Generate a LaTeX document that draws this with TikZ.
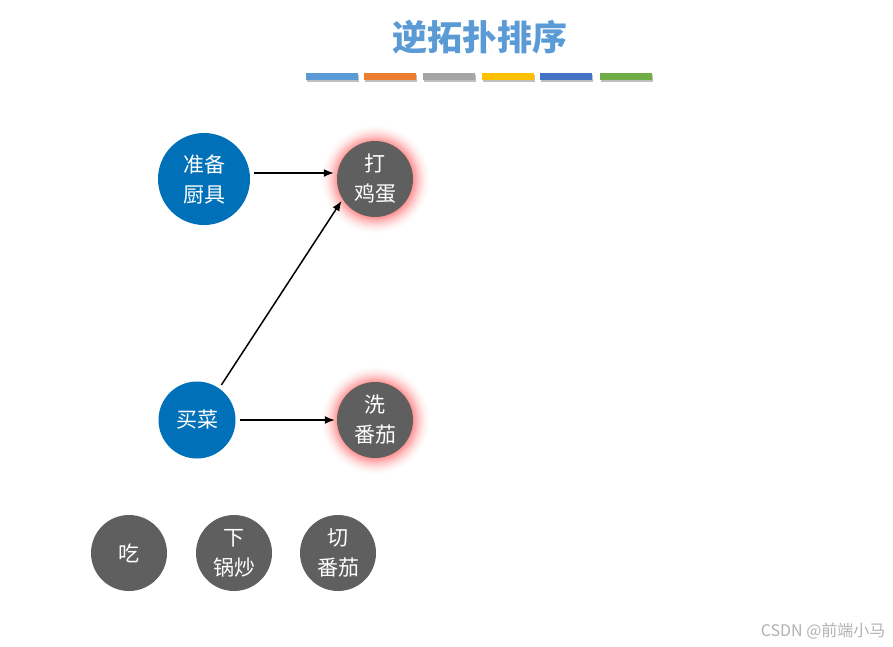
\documentclass[tikz,border=0pt]{standalone}
\usepackage{fontspec}
\setmainfont{Noto Sans CJK SC}
\usetikzlibrary{arrows.meta}
\definecolor{nblue}{HTML}{0070B8}
\definecolor{ngray}{HTML}{5F5F5F}
\definecolor{tblue}{HTML}{5B9BD5}
\definecolor{b1}{HTML}{5B9BD5}
\definecolor{b2}{HTML}{ED7D31}
\definecolor{b3}{HTML}{A5A5A5}
\definecolor{b4}{HTML}{FFC000}
\definecolor{b5}{HTML}{4472C4}
\definecolor{b6}{HTML}{70AD47}
\pgfdeclareradialshading{glow}{\pgfpoint{0bp}{0bp}}{color(0bp)=(red!45); color(17bp)=(red!45); color(18bp)=(red!38); color(20bp)=(red!22); color(22.5bp)=(red!7); color(25bp)=(white); color(50bp)=(white)}
\tikzset{
  bignode/.style={circle, fill=nblue, minimum size=92pt, inner sep=0pt, text=white, font=\fontsize{21}{30}\selectfont, align=center},
  bluenode/.style={circle, fill=nblue, minimum size=77pt, inner sep=0pt, text=white, font=\fontsize{21}{30}\selectfont, align=center},
  graynode/.style={circle, fill=ngray, minimum size=76pt, inner sep=0pt, text=white, font=\fontsize{21}{30}\selectfont, align=center},
  conn/.style={draw=black, line width=1.5pt, -{Latex[length=10pt,width=8pt]}, shorten <=4pt, shorten >=2pt},
}
\begin{document}
\begin{tikzpicture}[x=1pt,y=-1pt]
\useasboundingbox (0,0) rectangle (893,646);
\fill[white] (0,0) rectangle (893,646);
% title
\node[font=\fontsize{35}{38}\selectfont\bfseries, text=tblue] (title) at (480,37) {逆拓扑排序};
% bars
\foreach \x/\c in {306/b1,364/b2,423/b3,482/b4,540/b5,600/b6}{
  \fill[black!25] (\x+1,75) rectangle (\x+53,82);
  \fill[\c] (\x,73) rectangle (\x+52,80);
}
% glows
\shade[shading=glow] (375,179) circle (54);
\shade[shading=glow] (375,420) circle (54);
% nodes
\node[bignode] (prep) at (204,179) {准备\\厨具};
\node[graynode] (egg) at (375,179) {打\\鸡蛋};
\node[bluenode] (buy) at (197,420) {买菜};
\node[graynode] (wash) at (375,420) {洗\\番茄};
\node[graynode] (eat) at (129,553) {吃};
\node[graynode] (cook) at (234,553) {下\\锅炒};
\node[graynode] (cut) at (338,553) {切\\番茄};
% connectors
\draw[conn] ([yshift=6pt]prep.east) -- ([yshift=6pt,xshift=-1pt]egg.west);
\draw[conn] (buy.55) -- (egg.212);
\draw[conn] (buy.east) -- (wash.west);
% watermark
\node[font=\fontsize{16}{18}\selectfont, text=black!30, anchor=east] (wm) at (889,631) {CSDN @前端小马};
\end{tikzpicture}
\end{document}
